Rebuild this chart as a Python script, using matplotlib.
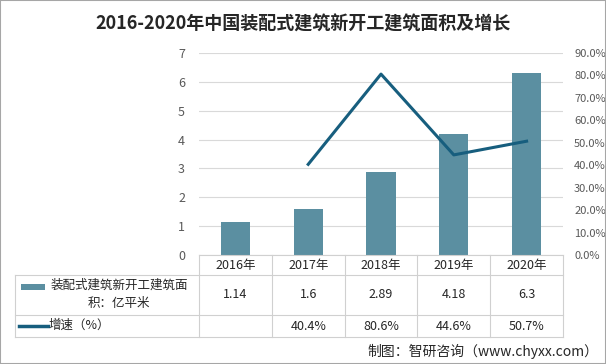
import matplotlib
matplotlib.use("Agg")
import matplotlib.pyplot as plt
from matplotlib.lines import Line2D
from matplotlib.patches import Rectangle

plt.rcParams['font.family'] = ['Noto Sans CJK SC', 'DejaVu Sans']

years = ['2016年', '2017年', '2018年', '2019年', '2020年']
area = [1.14, 1.6, 2.89, 4.18, 6.3]
growth = [None, 40.4, 80.6, 44.6, 50.7]
area_labels = ['1.14', '1.6', '2.89', '4.18', '6.3']
growth_labels = ['', '40.4%', '80.6%', '44.6%', '50.7%']

W, H = 606, 364
bar_color = '#5B8FA1'
line_color = '#175E7E'
grid_color = '#D9D9D9'
text_color = '#595959'

fig = plt.figure(figsize=(W / 100, H / 100), dpi=100)


def fx(px):
    return px / W


def fy(py):
    return 1 - py / H


x0, x1 = 199, 563
ytop, ybot = 53, 255
ax = fig.add_axes([fx(x0), fy(ybot), fx(x1 - x0), (ybot - ytop) / H])
xs = list(range(len(years)))
ax.bar(xs, area, width=0.4, color=bar_color, zorder=2)
ax.set_xlim(-0.5, 4.5)
ax.set_ylim(0, 7)
ax.set_yticks(range(8))
ax.yaxis.grid(True, color=grid_color, lw=0.8, zorder=0)
ax.tick_params(axis='y', length=0, labelsize=9, labelcolor=text_color, pad=10)
ax.set_xticks([])
for s in ax.spines.values():
    s.set_visible(False)

ax2 = ax.twinx()
gx = [x for x, g in zip(xs, growth) if g is not None]
gy = [g for g in growth if g is not None]
ax2.plot(gx, gy, color=line_color, lw=2.2, zorder=3)
ax2.set_ylim(0, 90)
ax2.set_yticks(range(0, 91, 10))
ax2.set_yticklabels([f'{v:.1f}%' for v in range(0, 91, 10)])
ax2.tick_params(axis='y', length=0, labelsize=8, labelcolor=text_color, pad=8)
for s in ax2.spines.values():
    s.set_visible(False)

# data table
col_w = (x1 - x0) / len(years)
rows = [255, 275, 315, 337]
lw = 0.8
tc = '#D0D0D0'


def hline(y, xa, xb):
    fig.add_artist(Line2D([fx(xa), fx(xb)], [fy(y), fy(y)], color=tc, lw=lw))


def vline(x, ya, yb):
    fig.add_artist(Line2D([fx(x), fx(x)], [fy(ya), fy(yb)], color=tc, lw=lw))


hline(255, x0, x1)
for y in rows[1:]:
    hline(y, 15, x1)
for k in range(len(years) + 1):
    vline(x0 + k * col_w, 255, 337)
vline(15, 275, 337)

for k, yr in enumerate(years):
    cx = x0 + (k + 0.5) * col_w
    fig.text(fx(cx), fy(265), yr, ha='center', va='center', fontsize=9, color='#262626')
    fig.text(fx(cx), fy(295), area_labels[k], ha='center', va='center', fontsize=9, color='#262626')
    fig.text(fx(cx), fy(326), growth_labels[k], ha='center', va='center', fontsize=9, color='#262626')

fig.add_artist(Rectangle((fx(21), fy(290)), fx(24), 6 / H, color=bar_color, lw=0))
fig.text(fx(51), fy(285), '装配式建筑新开工建筑面', ha='left', va='center', fontsize=9, color='#262626')
fig.text(fx(119), fy(304), '积：亿平米', ha='center', va='center', fontsize=9, color='#262626')
fig.add_artist(Line2D([fx(19), fx(48)], [fy(326), fy(326)], color=line_color, lw=2.5))
fig.text(fx(49), fy(325), '增速（%）', ha='left', va='center', fontsize=9, color='#262626')

fig.text(0.5, fy(24), '2016-2020年中国装配式建筑新开工建筑面积及增长', ha='center', va='center',
         fontsize=13, fontweight='bold', color='#262626')
fig.text(fx(598), fy(351), '制图：智研咨询（www.chyxx.com）', ha='right', va='center',
         fontsize=10, color='#262626')

fig.add_artist(Rectangle((0, 0), 1, 1, fill=False, ec='#A6A6A6', lw=1.5, transform=fig.transFigure))

fig.savefig('out.png', dpi=100)
